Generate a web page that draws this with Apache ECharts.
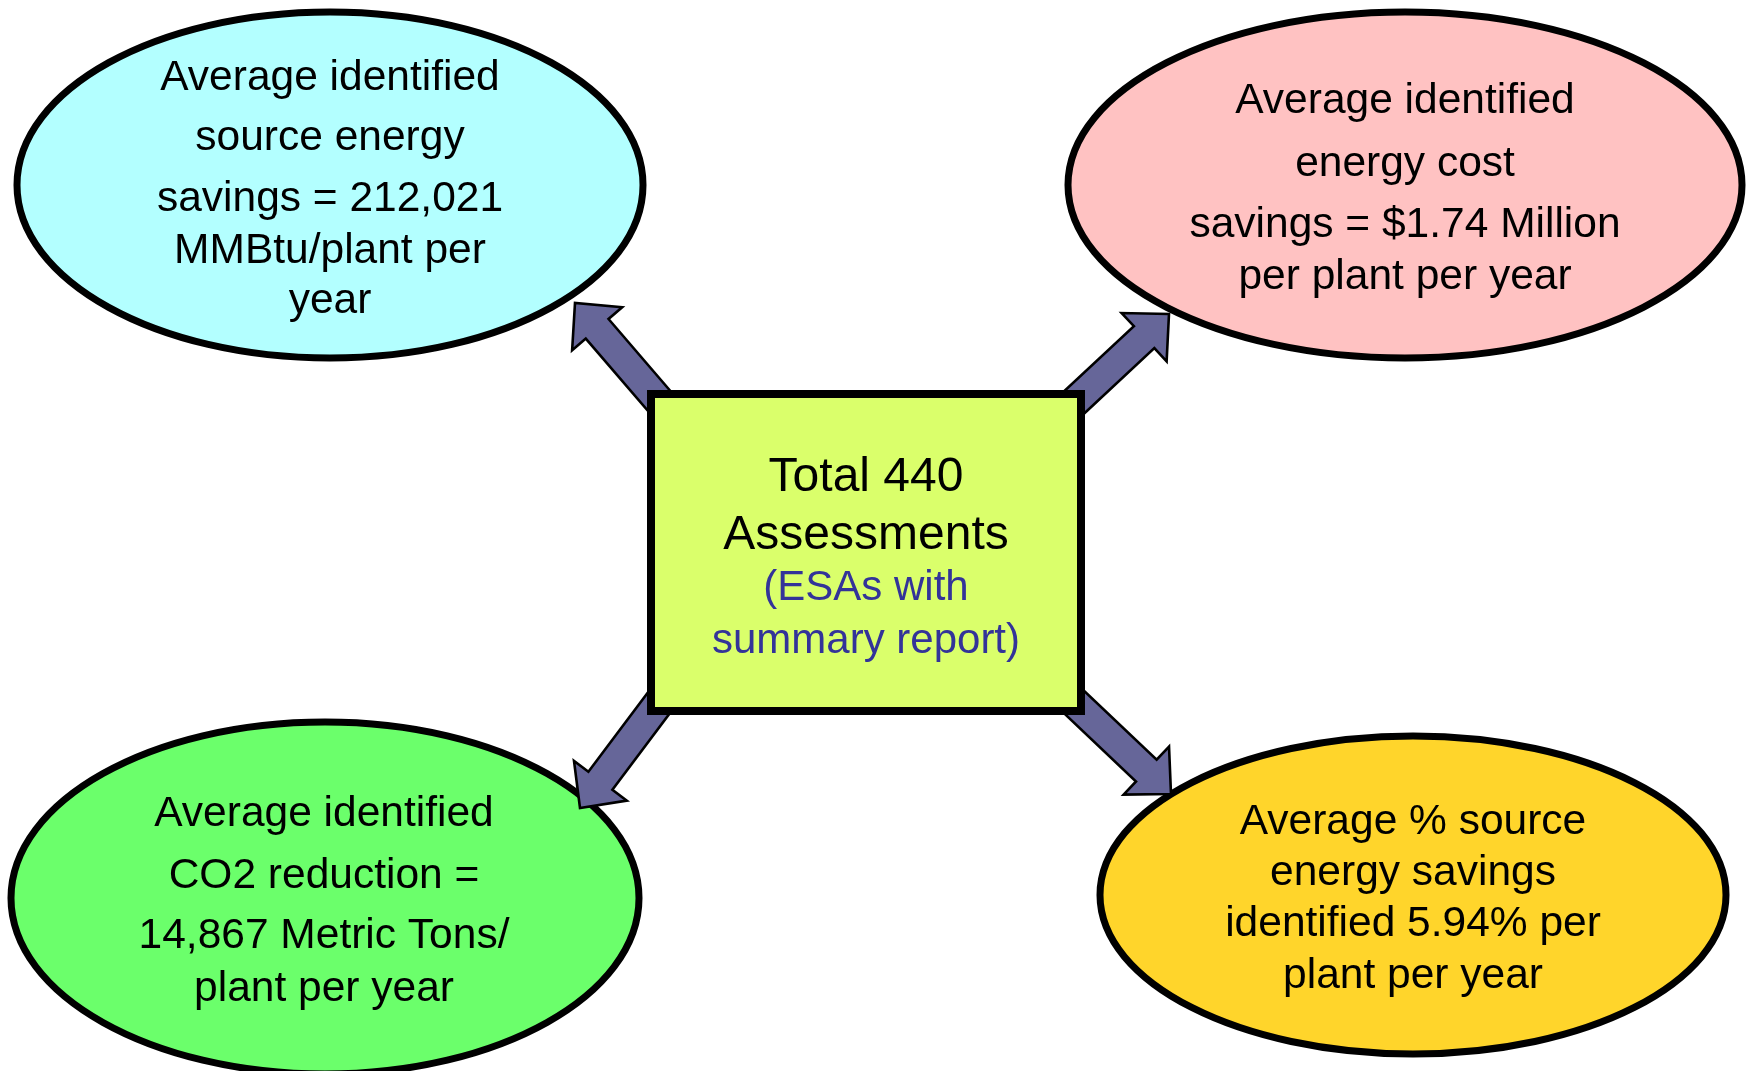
<!DOCTYPE html>
<html>
<head>
<meta charset="utf-8">
<script src="https://cdn.jsdelivr.net/npm/echarts@6/dist/echarts.min.js"></script>
<style>
html,body{margin:0;padding:0;background:#fff;}
#chart{width:1752px;height:1071px;}
</style>
</head>
<body>
<div id="chart"></div>
<script>
// ---- content (text) ----
const sourceEnergyLines = ['Average identified', 'source energy', 'savings = 212,021', 'MMBtu/plant per', 'year'];
const costLines = ['Average identified', 'energy cost', 'savings = $1.74 Million', 'per plant per year'];
const co2Lines = ['Average identified', 'CO2 reduction =', '14,867 Metric Tons/', 'plant per year'];
const pctLines = ['Average % source', 'energy savings', 'identified 5.94% per', 'plant per year'];
const totalLines = ['Total 440', 'Assessments'];
const totalSubLines = ['(ESAs with', 'summary report)'];

// ---- layout (pixel space of a hidden 1752 x 1071 value grid) ----
const ellipseLayout = [
  { lines: sourceEnergyLines, cx: 330, cy: 185, rx: 313, ry: 173, fill: '#B3FFFF', tx: 330, ty: [78, 138, 199, 251, 301] },
  { lines: costLines, cx: 1405, cy: 185, rx: 337, ry: 173, fill: '#FFC2C2', tx: 1405, ty: [101, 164, 225, 277] },
  { lines: co2Lines, cx: 325, cy: 898, rx: 314, ry: 176, fill: '#6BFF6B', tx: 324, ty: [814, 876, 936, 989] },
  { lines: pctLines, cx: 1413, cy: 895, rx: 313, ry: 159, fill: '#FFD52B', tx: 1413, ty: [822, 873, 924, 976] }
];
const arrowLayout = [
  { tail: [679, 424], tip: [575, 303] },
  { tail: [1052, 423], tip: [1169, 314] },
  { tail: [676, 680], tip: [580, 808] },
  { tail: [1055, 684], tip: [1171, 794] }
];
const boxLayout = { x1: 651, y1: 394, x2: 1081, y2: 711, tx: 866, ty: [478, 536], subTy: [588, 641] };

const FONT = '"Liberation Sans", Arial, Helvetica, sans-serif';

const chart = echarts.init(document.getElementById('chart'), null, { renderer: 'canvas' });

function ellipseItem(params, api) {
  const e = ellipseLayout[params.dataIndex];
  const c = api.coord([e.cx, e.cy]);
  const p = api.coord([e.cx + e.rx, e.cy + e.ry]);
  const children = [{
    type: 'ellipse',
    shape: { cx: c[0], cy: c[1], rx: Math.abs(p[0] - c[0]), ry: Math.abs(p[1] - c[1]) },
    style: { fill: e.fill, stroke: '#000', lineWidth: 7 }
  }];
  e.lines.forEach((t, i) => {
    const q = api.coord([e.tx, e.ty[i]]);
    children.push({
      type: 'text',
      style: { text: t, x: q[0], y: q[1], fill: '#000', font: '42.5px ' + FONT, align: 'center', verticalAlign: 'middle' }
    });
  });
  return { type: 'group', children };
}

function arrowItem(params, api) {
  const a = arrowLayout[params.dataIndex];
  const t0 = api.coord(a.tail), t1 = api.coord(a.tip);
  const dx = t1[0] - t0[0], dy = t1[1] - t0[1];
  const len = Math.sqrt(dx * dx + dy * dy);
  const ux = dx / len, uy = dy / len;
  const px = -uy, py = ux;
  const sw = 15, hw = 33, hl = 34;
  const bx = t1[0] - ux * hl, by = t1[1] - uy * hl;
  const pts = [
    [t0[0] + px * sw, t0[1] + py * sw],
    [bx + px * sw, by + py * sw],
    [bx + px * hw, by + py * hw],
    [t1[0], t1[1]],
    [bx - px * hw, by - py * hw],
    [bx - px * sw, by - py * sw],
    [t0[0] - px * sw, t0[1] - py * sw]
  ];
  return {
    type: 'polygon',
    shape: { points: pts },
    style: { fill: '#666699', stroke: '#000', lineWidth: 2.6, lineJoin: 'miter' }
  };
}

function boxItem(params, api) {
  const b = boxLayout;
  const a = api.coord([b.x1, b.y1]);
  const c = api.coord([b.x2, b.y2]);
  const children = [{
    type: 'rect',
    shape: { x: a[0], y: a[1], width: c[0] - a[0], height: c[1] - a[1] },
    style: { fill: '#DAFF6B', stroke: '#000', lineWidth: 8 }
  }];
  totalLines.forEach((t, i) => {
    const q = api.coord([b.tx, b.ty[i]]);
    children.push({ type: 'text', style: { text: t, x: q[0], y: q[1], fill: '#000', font: '48px ' + FONT, align: 'center', verticalAlign: 'middle' } });
  });
  totalSubLines.forEach((t, i) => {
    const q = api.coord([b.tx, b.subTy[i]]);
    children.push({ type: 'text', style: { text: t, x: q[0], y: q[1], fill: '#333399', font: '42px ' + FONT, align: 'center', verticalAlign: 'middle' } });
  });
  return { type: 'group', children };
}

chart.setOption({
  animation: false,
  backgroundColor: '#ffffff',
  grid: { left: 0, right: 0, top: 0, bottom: 0 },
  xAxis: { type: 'value', min: 0, max: 1752, show: false },
  yAxis: { type: 'value', min: 0, max: 1071, inverse: true, show: false },
  series: [
    { type: 'custom', z: 1, renderItem: ellipseItem, data: ellipseLayout.map((e, i) => [i]), silent: true, clip: false },
    { type: 'custom', z: 2, renderItem: arrowItem, data: arrowLayout.map((e, i) => [i]), silent: true, clip: false },
    { type: 'custom', z: 3, renderItem: boxItem, data: [[0]], silent: true, clip: false }
  ]
});
</script>
</body>
</html>
